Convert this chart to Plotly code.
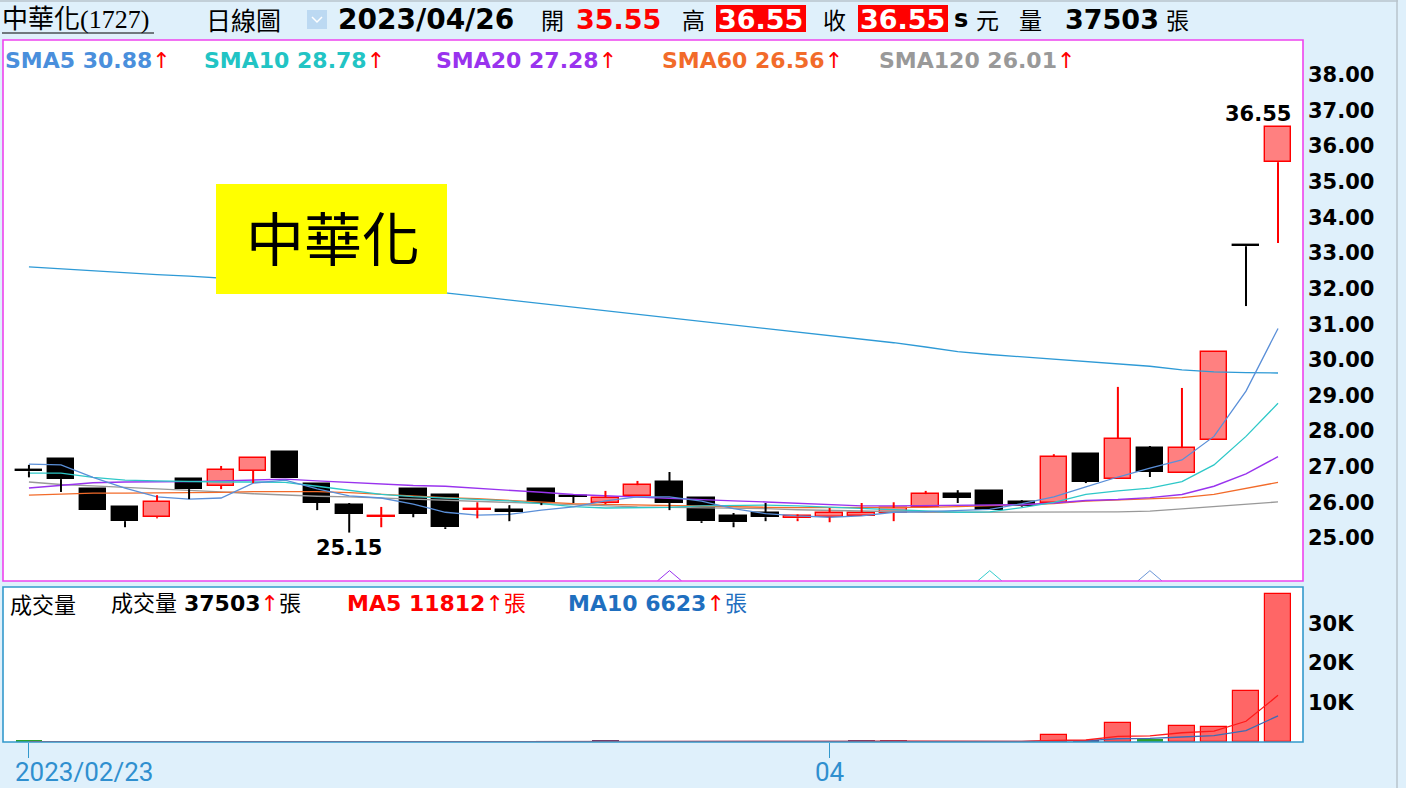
import plotly.graph_objects as go

# ---------------- data ----------------
dates = ["2023/02/23", "2023/02/24", "2023/03/01", "2023/03/02", "2023/03/03", "2023/03/06",
         "2023/03/07", "2023/03/08", "2023/03/09", "2023/03/10", "2023/03/13", "2023/03/14",
         "2023/03/15", "2023/03/16", "2023/03/17", "2023/03/20", "2023/03/21", "2023/03/22",
         "2023/03/23", "2023/03/24", "2023/03/27", "2023/03/28", "2023/03/29", "2023/03/30",
         "2023/03/31", "2023/04/06", "2023/04/07", "2023/04/10", "2023/04/11", "2023/04/12",
         "2023/04/13", "2023/04/14", "2023/04/17", "2023/04/18", "2023/04/19", "2023/04/20",
         "2023/04/21", "2023/04/24", "2023/04/25", "2023/04/26"]

opens = [26.88, 27.21, 26.37, 25.87, 25.58, 26.65, 26.46, 26.88, 27.41, 26.51, 25.92, 25.58, 26.37,
         26.20, 25.78, 25.75, 26.37, 26.17, 25.98, 26.17, 26.57, 26.12, 25.61, 25.70, 25.55, 25.58,
         25.61, 25.70, 25.87, 26.23, 26.31, 26.00, 25.98, 27.35, 26.65, 27.52, 26.82, 27.75, 33.20, 35.55]
highs = [27.05, 27.21, 26.37, 25.87, 26.20, 26.65, 27.02, 27.24, 27.41, 26.51, 25.98, 25.87, 26.37,
         26.20, 26.00, 25.92, 26.37, 26.20, 26.32, 26.60, 26.85, 26.12, 25.70, 25.98, 25.66, 25.84,
         25.98, 26.00, 26.32, 26.34, 26.31, 26.06, 27.35, 27.35, 29.24, 27.58, 29.21, 30.22, 33.20, 36.55]
lows = [26.70, 26.29, 25.78, 25.30, 25.55, 26.09, 26.37, 26.54, 26.68, 25.78, 25.15, 25.30, 25.58,
        25.25, 25.55, 25.47, 25.92, 25.98, 25.95, 26.17, 25.78, 25.42, 25.30, 25.47, 25.47, 25.44,
        25.61, 25.47, 25.87, 25.98, 25.78, 25.87, 25.98, 26.54, 26.65, 26.71, 26.82, 27.75, 31.51, 33.28]
closes = [26.87, 26.65, 25.78, 25.47, 26.01, 26.37, 26.90, 27.24, 26.68, 25.98, 25.67, 25.59, 25.67,
          25.30, 25.79, 25.74, 25.98, 26.16, 26.12, 26.48, 25.98, 25.47, 25.44, 25.58, 25.61, 25.70,
          25.70, 25.84, 26.23, 26.12, 25.78, 25.89, 27.27, 26.57, 27.78, 26.85, 27.52, 30.22, 33.19, 36.55]

sma5 = [27.07, 27.05, 26.70, 26.40, 26.15, 26.09, 26.12, 26.54, 26.62, 26.38, 26.18, 26.12, 25.95,
        25.72, 25.64, 25.66, 25.78, 25.87, 26.04, 26.15, 26.15, 26.03, 25.82, 25.68, 25.62, 25.58,
        25.62, 25.72, 25.74, 25.77, 25.80, 25.96, 26.15, 26.43, 26.71, 26.96, 27.19, 27.85, 29.12, 30.88]
sma10 = [26.82, 26.82, 26.70, 26.62, 26.60, 26.58, 26.57, 26.57, 26.56, 26.45, 26.34, 26.22, 26.16,
         26.12, 26.08, 26.04, 25.96, 25.88, 25.84, 25.84, 25.86, 25.90, 25.92, 25.92, 25.90, 25.86,
         25.82, 25.78, 25.74, 25.72, 25.73, 25.85, 26.00, 26.22, 26.32, 26.40, 26.58, 27.05, 27.85, 28.78]
sma20 = [26.40, 26.48, 26.55, 26.57, 26.57, 26.58, 26.60, 26.62, 26.65, 26.60, 26.55, 26.52, 26.47,
         26.45, 26.40, 26.34, 26.28, 26.22, 26.18, 26.15, 26.12, 26.07, 26.04, 26.01, 25.98, 25.95,
         25.90, 25.90, 25.91, 25.92, 25.92, 25.93, 25.98, 26.05, 26.08, 26.13, 26.22, 26.45, 26.80, 27.28]
sma60 = [26.20, 26.23, 26.26, 26.26, 26.26, 26.27, 26.28, 26.30, 26.31, 26.30, 26.27, 26.22, 26.17,
         26.13, 26.10, 26.05, 25.99, 25.96, 25.94, 25.92, 25.91, 25.89, 25.87, 25.86, 25.85, 25.85,
         25.84, 25.85, 25.86, 25.88, 25.90, 25.92, 25.96, 26.03, 26.07, 26.10, 26.13, 26.22, 26.38, 26.56]
sma120 = [26.57, 26.50, 26.46, 26.42, 26.39, 26.33, 26.29, 26.24, 26.20, 26.17, 26.15, 26.12, 26.09,
          26.04, 26.02, 25.99, 25.96, 25.93, 25.90, 25.87, 25.86, 25.85, 25.84, 25.82, 25.79, 25.77,
          25.75, 25.73, 25.72, 25.72, 25.72, 25.72, 25.72, 25.72, 25.73, 25.75, 25.82, 25.88, 25.95, 26.01]
long_ma = [32.61, 32.55, 32.50, 32.45, 32.39, 32.35, 32.30, 32.25, 32.19, 32.13, 32.07, 32.01, 31.95,
           31.88, 31.78, 31.68, 31.58, 31.48, 31.38, 31.28, 31.18, 31.08, 30.98, 30.88, 30.78, 30.68,
           30.59, 30.48, 30.36, 30.23, 30.15, 30.08, 30.01, 29.94, 29.88, 29.82, 29.72, 29.66, 29.64, 29.63]

volumes = [450, 60, 50, 60, 40, 50, 60, 70, 80, 50, 90, 40, 60, 80, 30, 20, 60, 40, 500, 60,
           60, 80, 50, 40, 30, 40, 480, 500, 60, 50, 180, 140, 1700, 450, 4700, 820, 4020, 3760,
           12957, 37503]
vol_ma5 = [90, 85, 80, 75, 70, 60, 55, 60, 65, 70, 75, 70, 70, 75, 65, 50, 45, 45, 130, 140,
           150, 150, 150, 60, 55, 50, 130, 220, 220, 225, 260, 180, 430, 500, 1430, 1560, 2340,
           2750, 5250, 11812]
vol_ma10 = [80, 80, 75, 75, 70, 65, 65, 65, 70, 70, 70, 65, 65, 70, 65, 60, 60, 60, 100, 100,
            100, 100, 100, 100, 100, 100, 100, 130, 130, 130, 140, 150, 320, 360, 820, 900, 1270,
            1600, 2890, 6623]
vol_colors = ["#2ca02c", "#6b3a6b", "#6b3a6b", "#6b3a6b", "#ff6666", "#6b3a6b", "#ff6666", "#ff6666",
              "#6b3a6b", "#6b3a6b", "#6b3a6b", "#ff6666", "#6b3a6b", "#6b3a6b", "#ff6666", "#6b3a6b",
              "#6b3a6b", "#6b3a6b", "#6b3a6b", "#6b3a6b", "#6b3a6b", "#6b3a6b", "#6b3a6b", "#6b3a6b",
              "#ff6666", "#ff6666", "#6b3a6b", "#6b3a6b", "#ff6666", "#6b3a6b", "#6b3a6b", "#6b3a6b",
              "#ff6666", "#6b3a6b", "#ff6666", "#2ca02c", "#ff6666", "#ff6666", "#ff6666", "#ff6666"]

signal_dates = ["2023/03/27", "2023/04/13", "2023/04/20"]
signal_colors = ["#9933ee", "#33cccc", "#6a95d6"]

price_ticks = [25, 26, 27, 28, 29, 30, 31, 32, 33, 34, 35, 36, 37, 38]
vol_ticks = [10000, 20000, 30000]
vol_tick_text = ["10K", "20K", "30K"]
date_ticks = ["2023/02/23", "2023/04/06"]
date_tick_text = ["2023/02/23", "04"]

# ---------------- layout constants ----------------
W, H = 1406, 788
PL, PR = 3, 1303          # panel left/right pixel
MT, MB = 40, 581          # main panel top/bottom pixel
VT, VB = 587, 742         # volume panel top/bottom pixel
UP_FILL, UP_LINE = "#ff8080", "#ff0000"
DN_FILL, DN_LINE = "#000000", "#000000"
NUM = "DejaVu Sans"
CJK = "Noto Sans CJK TC"
BG = "#dff0fb"

idx = list(range(len(dates)))
x_lo = -0.81
x_hi = 39.78
y_lo, y_hi = 23.79, 38.98


def px(x):
    return x / W


def py(y):
    return 1 - y / H


fig = go.Figure()

# ---------- moving averages (main) ----------
ma_series = [(long_ma, "#2e9ad6", 1.3), (sma120, "#999999", 1.3), (sma60, "#f26b2a", 1.3),
             (sma20, "#9933ee", 1.4), (sma10, "#2ec8c8", 1.3), (sma5, "#5a8fd8", 1.3)]
for vals, col, w in ma_series:
    fig.add_trace(go.Scatter(x=idx, y=vals, mode="lines", line=dict(color=col, width=w),
                             hoverinfo="skip", xaxis="x", yaxis="y"))

# ---------- candles ----------
up = [c > o for o, c in zip(opens, closes)]
body_base = [min(o, c) for o, c in zip(opens, closes)]
body_h = [max(abs(c - o), 0.03) for o, c in zip(opens, closes)]
fig.add_trace(go.Bar(x=idx, y=body_h, base=body_base, width=0.83,
                     marker=dict(color=[UP_FILL if u else DN_FILL for u in up],
                                 line=dict(color=[UP_LINE if u else DN_LINE for u in up], width=1.4)),
                     hoverinfo="skip", xaxis="x", yaxis="y"))

for want_up, col in [(True, UP_LINE), (False, DN_LINE)]:
    wx, wy = [], []
    for i in idx:
        if up[i] != want_up:
            continue
        top = max(opens[i], closes[i])
        bot = min(opens[i], closes[i])
        if highs[i] > top:
            wx += [i, i, None]
            wy += [top, highs[i], None]
        if lows[i] < bot:
            wx += [i, i, None]
            wy += [lows[i], bot, None]
    fig.add_trace(go.Scatter(x=wx, y=wy, mode="lines", line=dict(color=col, width=2),
                             hoverinfo="skip", xaxis="x", yaxis="y"))

# ---------- signal chevrons ----------
for d, col in zip(signal_dates, signal_colors):
    i = dates.index(d)
    fig.add_trace(go.Scatter(x=[i - 0.38, i, i + 0.38], y=[y_lo, y_lo + 0.29, y_lo], mode="lines",
                             line=dict(color=col, width=1), hoverinfo="skip",
                             xaxis="x", yaxis="y", cliponaxis=False))

# ---------- volume ----------
outlined = [c == "#ff6666" and v >= 1000 for c, v in zip(vol_colors, volumes)]
fig.add_trace(go.Bar(x=idx, y=volumes, width=0.83,
                     marker=dict(color=vol_colors,
                                 line=dict(color=[UP_LINE if r else c for r, c in zip(outlined, vol_colors)],
                                           width=[1.2 if r else 0 for r in outlined])),
                     hoverinfo="skip", xaxis="x2", yaxis="y2"))
fig.add_trace(go.Scatter(x=idx, y=vol_ma10, mode="lines", line=dict(color="#3d6cb5", width=1.3),
                         hoverinfo="skip", xaxis="x2", yaxis="y2"))
fig.add_trace(go.Scatter(x=idx, y=vol_ma5, mode="lines", line=dict(color="#ff1a1a", width=1.3),
                         hoverinfo="skip", xaxis="x2", yaxis="y2"))

# ---------- axes ----------
tickfont = dict(family=NUM, size=21, color="black", weight="bold")
fig.update_layout(
    width=W, height=H, autosize=False,
    margin=dict(l=0, r=0, t=0, b=0),
    paper_bgcolor=BG, plot_bgcolor="white",
    showlegend=False, bargap=0,
    xaxis=dict(domain=[px(PL), px(PR)], range=[x_lo, x_hi], showticklabels=False, showgrid=False,
               zeroline=False, anchor="y", fixedrange=True),
    yaxis=dict(domain=[py(MB), py(MT)], range=[y_lo, y_hi], side="right", anchor="x",
               tickvals=price_ticks, ticktext=[f"{v:.2f}" for v in price_ticks], tickfont=tickfont,
               showgrid=False, zeroline=False, ticks="", ticklabelstandoff=4, fixedrange=True),
    xaxis2=dict(domain=[px(PL), px(PR)], range=[x_lo, x_hi], showticklabels=False, showgrid=False,
                zeroline=False, anchor="y2", tickvals=[dates.index(d) for d in date_ticks],
                ticks="outside", ticklen=15, tickcolor="#3399cc", tickwidth=1, fixedrange=True),
    yaxis2=dict(domain=[py(VB), py(VT)], range=[0, 39240], side="right", anchor="x2",
                tickvals=vol_ticks, ticktext=vol_tick_text, tickfont=tickfont,
                showgrid=False, zeroline=False, ticks="", ticklabelstandoff=4, fixedrange=True),
)

# ---------- shapes ----------
shapes = [
    dict(type="rect", x0=px(PL), x1=px(PR), y0=py(MB), y1=py(MT), line=dict(color="#ee44ee", width=1.6)),
    dict(type="rect", x0=px(PL), x1=px(PR), y0=py(VB), y1=py(VT), line=dict(color="#3399cc", width=1.6)),
    dict(type="rect", x0=px(216), x1=px(447), y0=py(294), y1=py(184), fillcolor="#ffff00",
         line=dict(width=0), layer="above"),
    dict(type="line", x0=px(2), x1=px(154), y0=py(33), y1=py(33), line=dict(color="black", width=1.2)),
    dict(type="rect", x0=px(307), x1=px(327), y0=py(29), y1=py(10), fillcolor="#bcd9f2",
         line=dict(width=0)),
    dict(type="path", path=f"M {px(312)} {py(17)} L {px(317)} {py(22)} L {px(322)} {py(17)}",
         line=dict(color="#ffffff", width=1.5)),
    dict(type="rect", x0=px(716), x1=px(806), y0=py(32), y1=py(5), fillcolor="#ff0000",
         line=dict(width=0)),
    dict(type="rect", x0=px(858), x1=px(948), y0=py(32), y1=py(5), fillcolor="#ff0000",
         line=dict(width=0)),
    dict(type="line", x0=0, x1=px(1398), y0=py(1), y1=py(1), line=dict(color="#b8c4cc", width=1.5)),
    dict(type="line", x0=px(1397), x1=px(1397), y0=0, y1=1, line=dict(color="#b8c4cc", width=1.5)),
]
for s in shapes:
    s.setdefault("xref", "paper")
    s.setdefault("yref", "paper")
    fig.add_shape(**s)


def ann(x, y, text, size, color="black", family=NUM, weight="normal", xanchor="left"):
    fig.add_annotation(xref="paper", yref="paper", x=px(x), y=py(y), text=text, showarrow=False,
                       xanchor=xanchor, yanchor="middle", borderpad=0,
                       font=dict(family=family, size=size, color=color, weight=weight))


MIX = f"Liberation Serif, {CJK}"
# header
ann(1, 19, "中華化(1727)", 26, family=MIX)
ann(205, 19, "日線圖", 25, family=CJK)
ann(337, 19, "2023/04/26", 28, weight="bold")
ann(540, 19, "開", 23, family=CJK)
ann(575, 19, "35.55", 27, color="#ff0000", weight="bold")
ann(681, 19, "高", 23, family=CJK)
ann(717, 19, "36.55", 27, color="white", weight="bold")
ann(822, 19, "收", 23, family=CJK)
ann(859, 19, "36.55", 27, color="white", weight="bold")
ann(953, 19, "s", 24, weight="bold")
ann(975, 19, "元", 23, family=CJK)
ann(1018, 19, "量", 23, family=CJK)
ann(1064, 19, "37503", 27, weight="bold")
ann(1165, 19, "張", 23, family=CJK)

# main legend
ARW = "<span style='color:#ff0000'>↑</span>"
legend_items = [(4, "SMA5 30.88", "#4a8fdc"), (203, "SMA10 28.78", "#22c4c4"),
                (435, "SMA20 27.28", "#9933ee"), (661, "SMA60 26.56", "#f26b2a"),
                (878, "SMA120 26.01", "#999999")]
for x, t, c in legend_items:
    ann(x, 60, f"<b>{t}</b>{ARW}", 22, color=c)

# volume legend
VF = f"{NUM}, {CJK}"
ann(9, 603, "成交量", 22, family=CJK)
ann(110, 603, f"成交量 <b>37503</b>{ARW}張", 22, family=VF)
ann(346, 603, f"<b>MA5 11812</b>↑張", 22, color="#ff0000", family=VF)
ann(567, 603, f"<b>MA10 6623</b>{ARW}張", 22, color="#1f6fbf", family=VF)

# yellow title box
ann(333, 236, "中華化", 58, family=CJK, xanchor="center")

# high / low labels
fig.add_annotation(x=idx[-1], y=highs[-1], xref="x", yref="y", text="36.55", showarrow=False,
                   xanchor="right", yanchor="bottom", xshift=15, yshift=-1,
                   font=dict(family=NUM, size=21, color="black", weight="bold"))
lo_i = lows.index(min(lows))
fig.add_annotation(x=idx[lo_i], y=lows[lo_i], xref="x", yref="y", text=f"{lows[lo_i]:.2f}",
                   showarrow=False, xanchor="center", yanchor="top", yshift=-1,
                   font=dict(family=NUM, size=21, color="black", weight="bold"))

# date labels
for d, t in zip(date_ticks, date_tick_text):
    i = dates.index(d)
    fig.add_annotation(x=i, y=py(772), xref="x2", yref="paper", yanchor="middle",
                       text=t, showarrow=False,
                       xanchor="left" if i == 0 else "center", xshift=-16 if i == 0 else 0,
                       font=dict(family="Roboto", size=26, color="#2f8fcf"))

fig.write_html("out.html", config={"displayModeBar": False},
               post_script="document.body.style.margin='0';document.body.style.background='%s';" % BG)
